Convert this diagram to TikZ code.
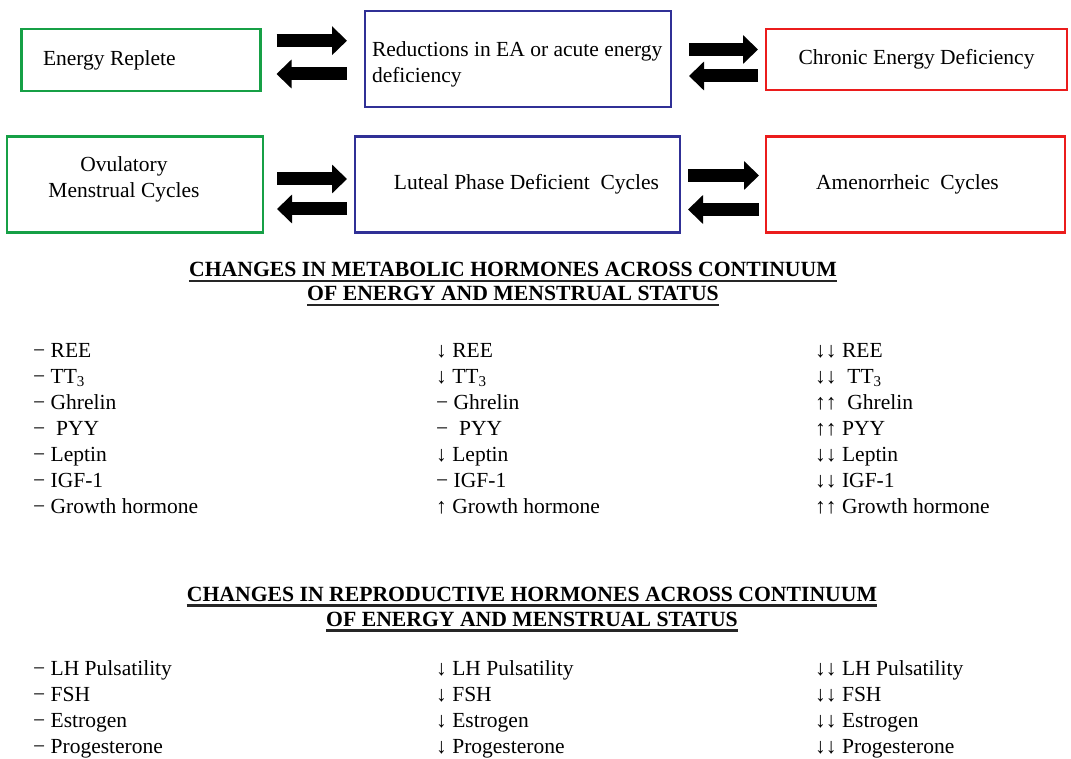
\documentclass[tikz,border=0pt]{standalone}
\usepackage{fontspec}
\setmainfont{Liberation Serif}
\setlength{\parindent}{0pt}
\usetikzlibrary{arrows.meta}
\definecolor{okgreen}{RGB}{22,160,70}
\definecolor{midblue}{RGB}{48,48,150}
\definecolor{lowred}{RGB}{235,28,28}
\tikzset{
  box/.style={draw,line width=2.6pt,outer sep=0pt,inner sep=0pt},
  leftbox/.style={box,text width=#1,align=left,
    execute at begin node={\spaceskip=0pt\xspaceskip=0pt}},
  fat/.style={line width=13pt,-{Triangle[width=28pt,length=15pt]}},
  uline/.style={line width=2.6pt,black!85},
  head/.style={font=\fontsize{21.7pt}{26pt}\selectfont\bfseries,inner sep=0pt,anchor=base},
  item/.style={anchor=base west,inner sep=0pt}
}
\begin{document}
\begin{tikzpicture}[x=1pt,y=-1pt,font=\fontsize{21.5pt}{26pt}\selectfont]
\useasboundingbox (0,0) rectangle (1071,759);
\node[leftbox=196pt,draw=okgreen,minimum width=239pt,minimum height=62pt] (er) at (141,60) {Energy Replete};
\node[leftbox=292pt,draw=midblue,minimum width=306pt,minimum height=96pt,text depth=20pt] (acute) at (518,59) {Reductions in EA or acute energy\\deficiency};
\node[box,draw=lowred,minimum width=301pt,minimum height=61pt] (chr) at (916.5,59.5) {Chronic Energy Deficiency};
\node[box,draw=okgreen,minimum width=256pt,minimum height=96pt,align=center,text depth=15pt] (ovu) at (135,184.5) {\hspace*{-22pt}Ovulatory\\\hspace*{-22pt}Menstrual Cycles};
\node[box,draw=midblue,minimum width=325pt,minimum height=96pt] (lpd) at (517.5,184.5) {\hspace*{18pt}Luteal Phase Deficient\ \ Cycles};
\node[box,draw=lowred,minimum width=299pt,minimum height=96pt] (amen) at (915.5,184.5) {\hspace*{-16pt}Amenorrheic\ \ Cycles};
\draw[fat,shorten <=16pt,shorten >=18pt] ([yshift=19.3pt]er.east) -- ([yshift=19.3pt]er.east -| acute.west);
\draw[fat,shorten <=18pt,shorten >=16pt] ([yshift=-14pt]er.east -| acute.west) -- ([yshift=-14pt]er.east);
\draw[fat,shorten <=18pt,shorten >=8pt] ([yshift=9.5pt]acute.east) -- ([yshift=9.5pt]acute.east -| chr.west);
\draw[fat,shorten <=8pt,shorten >=18pt] ([yshift=-17pt]acute.east -| chr.west) -- ([yshift=-17pt]acute.east);
\draw[fat,shorten <=14pt,shorten >=8pt] ([yshift=5.5pt]ovu.east) -- ([yshift=5.5pt]ovu.east -| lpd.west);
\draw[fat,shorten <=8pt,shorten >=14pt] ([yshift=-24.5pt]ovu.east -| lpd.west) -- ([yshift=-24.5pt]ovu.east);
\draw[fat,shorten <=8pt,shorten >=7pt] ([yshift=9pt]lpd.east) -- ([yshift=9pt]lpd.east -| amen.west);
\draw[fat,shorten <=7pt,shorten >=8pt] ([yshift=-25pt]lpd.east -| amen.west) -- ([yshift=-25pt]lpd.east);
\node[head,at={(513,277)}] (mh1) {CHANGES IN METABOLIC HORMONES ACROSS CONTINUUM};
\node[head,at={(513,301)}] (mh2) {OF ENERGY AND MENSTRUAL STATUS};
\draw[uline] ([yshift=-4pt]mh1.base west) -- ([yshift=-4pt]mh1.base east);
\draw[uline] ([yshift=-4pt]mh2.base west) -- ([yshift=-4pt]mh2.base east);
\node[item,at={(33,357)}] (ma1) {− REE};
\node[item,at={(33,383)}] (ma2) {− TT\textsubscript{3}};
\node[item,at={(33,409)}] (ma3) {− Ghrelin};
\node[item,at={(33,435)}] (ma4) {− \ PYY};
\node[item,at={(33,461)}] (ma5) {− Leptin};
\node[item,at={(33,487)}] (ma6) {− IGF-1};
\node[item,at={(33,513)}] (ma7) {− Growth hormone};
\node[item,at={(436,357)}] (mb1) {↓ REE};
\node[item,at={(436,383)}] (mb2) {↓ TT\textsubscript{3}};
\node[item,at={(436,409)}] (mb3) {− Ghrelin};
\node[item,at={(436,435)}] (mb4) {− \ PYY};
\node[item,at={(436,461)}] (mb5) {↓ Leptin};
\node[item,at={(436,487)}] (mb6) {− IGF-1};
\node[item,at={(436,513)}] (mb7) {↑ Growth hormone};
\node[item,at={(815,357)}] (mc1) {↓↓ REE};
\node[item,at={(815,383)}] (mc2) {↓↓ \ TT\textsubscript{3}};
\node[item,at={(815,409)}] (mc3) {↑↑ \ Ghrelin};
\node[item,at={(815,435)}] (mc4) {↑↑ PYY};
\node[item,at={(815,461)}] (mc5) {↓↓ Leptin};
\node[item,at={(815,487)}] (mc6) {↓↓ IGF-1};
\node[item,at={(815,513)}] (mc7) {↑↑ Growth hormone};
\node[head,at={(532,601.5)}] (rh1) {CHANGES IN REPRODUCTIVE HORMONES ACROSS CONTINUUM};
\node[head,at={(532,626.5)}] (rh2) {OF ENERGY AND MENSTRUAL STATUS};
\draw[uline] ([yshift=-4pt]rh1.base west) -- ([yshift=-4pt]rh1.base east);
\draw[uline] ([yshift=-4pt]rh2.base west) -- ([yshift=-4pt]rh2.base east);
\node[item,at={(33,675)}] (ra1) {− LH Pulsatility};
\node[item,at={(33,701)}] (ra2) {− FSH};
\node[item,at={(33,727)}] (ra3) {− Estrogen};
\node[item,at={(33,753)}] (ra4) {− Progesterone};
\node[item,at={(436,675)}] (rb1) {↓ LH Pulsatility};
\node[item,at={(436,701)}] (rb2) {↓ FSH};
\node[item,at={(436,727)}] (rb3) {↓ Estrogen};
\node[item,at={(436,753)}] (rb4) {↓ Progesterone};
\node[item,at={(815,675)}] (rc1) {↓↓ LH Pulsatility};
\node[item,at={(815,701)}] (rc2) {↓↓ FSH};
\node[item,at={(815,727)}] (rc3) {↓↓ Estrogen};
\node[item,at={(815,753)}] (rc4) {↓↓ Progesterone};
\end{tikzpicture}
\end{document}
